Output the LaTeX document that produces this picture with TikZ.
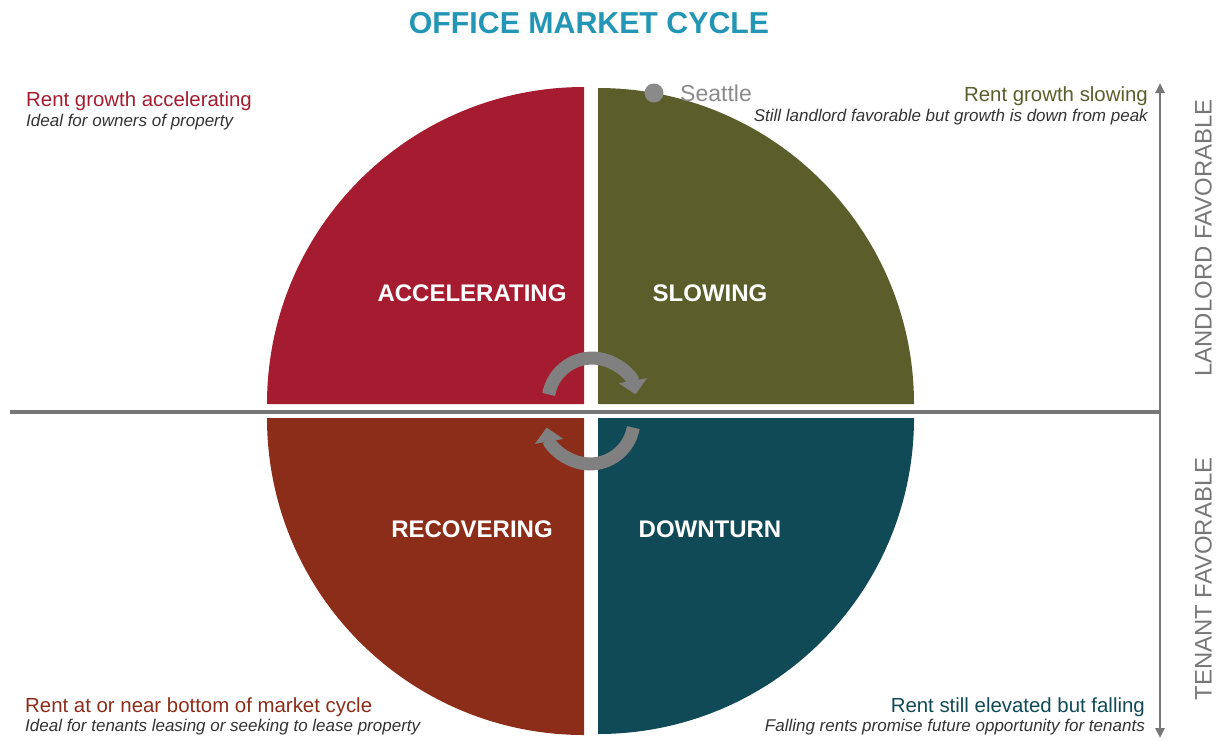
\documentclass[tikz,border=0pt]{standalone}
\usepackage{fontspec}
\setmainfont{Liberation Sans}
\usetikzlibrary{arrows.meta}
\definecolor{accred}{HTML}{A51C30}
\definecolor{slowolive}{HTML}{5B5E2A}
\definecolor{recbrown}{HTML}{8C2D1A}
\definecolor{downteal}{HTML}{114A57}
\definecolor{titleblue}{HTML}{2396B5}
\definecolor{axisgray}{HTML}{777777}
\definecolor{arrgray}{HTML}{808080}
\definecolor{subgray}{HTML}{333333}
\definecolor{citygray}{HTML}{8A8A8A}
\begin{document}
\begin{tikzpicture}[x=1pt,y=1pt,
  qlabel/.style={font=\bfseries\fontsize{24}{28}\selectfont, text=white, anchor=base, inner sep=0pt},
  headw/.style={font=\fontsize{20.4}{24}\selectfont, anchor=base west, inner sep=0pt},
  heade/.style={font=\fontsize{20.4}{24}\selectfont, anchor=base east, inner sep=0pt},
  subw/.style={font=\itshape\fontsize{17}{20}\selectfont, text=subgray, anchor=base west, inner sep=0pt},
  sube/.style={font=\itshape\fontsize{17}{20}\selectfont, text=subgray, anchor=base east, inner sep=0pt},
  sidelabel/.style={font=\fontsize{23.9}{27}\selectfont, text=axisgray, rotate=90, inner sep=0pt},
  cyclearrow/.style={draw=arrgray, line width=13pt, -{Triangle[length=14pt,width=28pt]}},
  axisline/.style={draw=axisgray, line width=3.5pt},
  axisarrow/.style={draw=axisgray, line width=2.5pt, {Triangle[length=10pt,width=9pt]}-{Triangle[length=10pt,width=9pt]}}
]
\useasboundingbox (0,0) rectangle (1222,-740);

% quadrants
\fill[accred] (584,-404) -- (267,-404) arc[start angle=180,end angle=90,radius=317] -- cycle;
\fill[slowolive] (598,-404) -- (598,-88) arc[start angle=90,end angle=0,radius=316] -- cycle;
\fill[downteal] (598,-418) -- (914,-418) arc[start angle=0,end angle=-90,radius=316] -- cycle;
\fill[recbrown] (584,-418) -- (584,-735) arc[start angle=-90,end angle=-180,radius=317] -- cycle;

% axes
\coordinate (hl) at (10,-412);
\coordinate (hr) at (1160,-412);
\coordinate (vt) at (1160,-83);
\coordinate (vb) at (1160,-738);
\draw[axisline] (hl) -- (hr);
\draw[axisarrow] (vb) -- (vt);

% cycle arrows
\coordinate (ta) at (548.7,-394.4);
\coordinate (ba) at (633.3,-427.6);
\draw[cyclearrow] (ta) arc[start angle=170,end angle=10,radius=44];
\draw[cyclearrow] (ba) arc[start angle=-10,end angle=-170,radius=44];

% title
\node[font=\bfseries\fontsize{30.3}{34}\selectfont, text=titleblue, anchor=base, inner sep=0pt] (title) at (589,-33) {OFFICE MARKET CYCLE};

% quadrant labels
\node[qlabel] (acc) at (472,-301) {ACCELERATING};
\node[qlabel] (slo) at (710,-301) {SLOWING};
\node[qlabel] (rec) at (472,-537) {RECOVERING};
\node[qlabel] (dow) at (710,-537) {DOWNTURN};

% corner texts
\node[headw, text=accred] (tlh) at (26,-106) {Rent growth accelerating};
\node[subw] (tls) at (26,-126) {Ideal for owners of property};
\node[heade, text=slowolive] (trh) at (1148,-101) {Rent growth slowing};
\node[sube] (trs) at (1148,-121) {Still landlord favorable but growth is down from peak};
\node[headw, text=recbrown] (blh) at (25,-712) {Rent at or near bottom of market cycle};
\node[subw] (bls) at (25,-731) {Ideal for tenants leasing or seeking to lease property};
\node[heade, text=downteal] (brh) at (1145,-712) {Rent still elevated but falling};
\node[sube] (brs) at (1145,-731) {Falling rents promise future opportunity for tenants};

% Seattle marker
\fill[citygray] (654,-93) circle[radius=9.5];
\node[font=\fontsize{23}{27}\selectfont, text=citygray, anchor=base west, inner sep=0pt] (sea) at (680,-101) {Seattle};

% side labels
\node[sidelabel] (land) at (1203.5,-238) {LANDLORD FAVORABLE};
\node[sidelabel] (ten) at (1203.5,-579) {TENANT FAVORABLE};
\end{tikzpicture}
\end{document}
